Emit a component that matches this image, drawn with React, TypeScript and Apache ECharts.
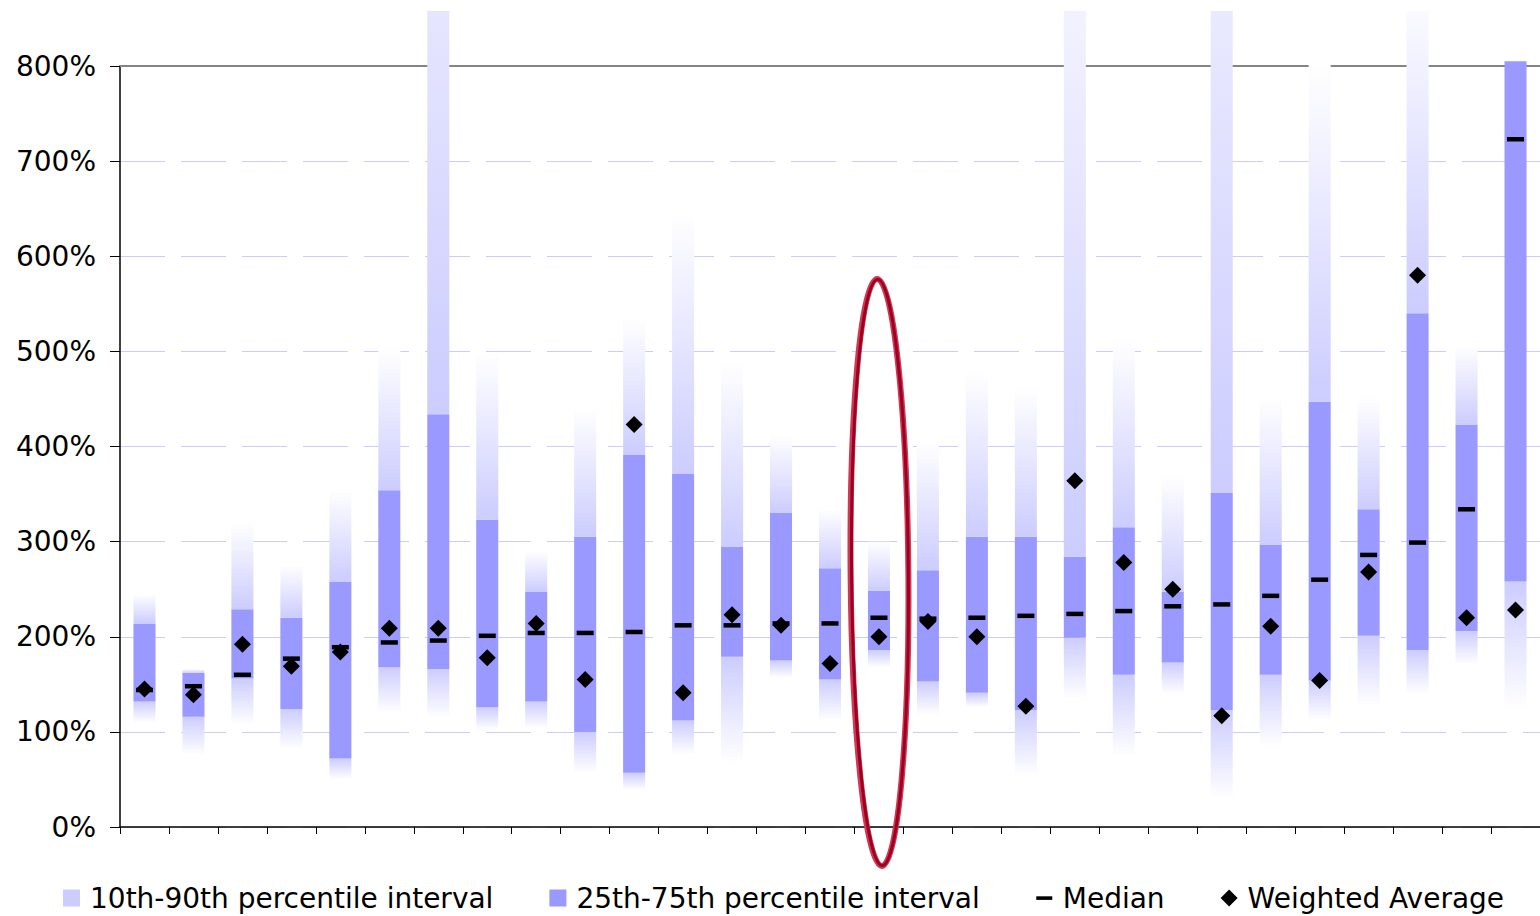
import React, { useEffect, useRef } from 'react';
import * as echarts from 'echarts';

const categories = ['1', '2', '3', '4', '5', '6', '7', '8', '9', '10', '11', '12', '13', '14', '15', '16', '17', '18', '19', '20', '21', '22', '23', '24', '25', '26', '27', '28', '29'];
const p10 = [110, 76, 108, 82, 50, 120, 115, 102, 104, 57, 39, 76, 68, 157, 112, 168, 118, 126, 54, 135, 74, 140, 29, 85, 112, 128, 140, 171, 124];
const p25 = [132, 116, 156, 124, 72, 168, 166, 126, 132, 100, 57, 112, 179, 175, 155, 186, 153, 141, 123, 199, 160, 173, 123, 160, 154, 201, 186, 206, 258];
const p75 = [214, 162, 229, 220, 258, 354, 434, 323, 247, 305, 391, 371, 295, 330, 272, 248, 270, 305, 305, 284, 315, 247, 351, 297, 447, 334, 540, 423, 805];
const p90 = [245, 166, 320, 275, 355, 503, 1280, 498, 290, 440, 535, 647, 488, 412, 334, 300, 406, 479, 462, 1054, 513, 369, 1240, 452, 805, 452, 892, 507, 805];
const median = [144, 148, 160, 177, 189, 194, 196, 201, 204, 204, 205, 212, 212, 214, 214, 220, 219, 220, 222, 224, 227, 232, 234, 243, 260, 286, 299, 334, 723];
const weightedAverage = [145, 139, 192, 169, 184, 209, 209, 178, 214, 155, 423, 141, 223, 212, 172, 200, 216, 200, 127, 364, 278, 250, 117, 211, 154, 268, 580, 220, 228];
const yTicks = [0, 100, 200, 300, 400, 500, 600, 700, 800];

const legendNames = ['10th-90th percentile interval', '25th-75th percentile interval', 'Median', 'Weighted Average'];

// annotation: ellipse drawn around one category
const highlightIndex = 15;
const ellipseTopValue = 576;
const ellipseBottomValue = -41;

const FONT = 'DejaVu Sans';
const LIGHT = '#CCCCFF';
const DARK = '#9999FF';

export default function App() {
  const ref = useRef<HTMLDivElement>(null);

  useEffect(() => {
    if (!ref.current) return;
    const chart = echarts.init(ref.current, null, { renderer: 'svg' });

    const lowerLight = p25.map((v, i) => v - p10[i]);
    const box = p75.map((v, i) => v - p25[i]);
    const upperLight = p90.map((v, i) => v - p75[i]);

    const upperGrad = new echarts.graphic.LinearGradient(0, 0, 0, 1, [
      { offset: 0, color: '#FFFFFF' },
      { offset: 1, color: LIGHT },
    ]);
    const lowerGrad = new echarts.graphic.LinearGradient(0, 0, 0, 1, [
      { offset: 0, color: LIGHT },
      { offset: 1, color: '#FFFFFF' },
    ]);

    const option: any = {
      animation: false,
      grid: { left: 120, top: 55, width: 1422, bottom: 89 },
      xAxis: [
        {
          type: 'category',
          data: categories,
          position: 'bottom',
          boundaryGap: true,
          axisLine: { show: true, lineStyle: { color: '#000', width: 1.5 } },
          axisTick: { show: true, interval: 0, length: 7, lineStyle: { color: '#000', width: 1 } },
          axisLabel: { show: false },
          splitLine: { show: false },
        },
        {
          type: 'category',
          data: categories,
          position: 'top',
          axisLine: { show: true, lineStyle: { color: '#858585', width: 2 } },
          axisTick: { show: false },
          axisLabel: { show: false },
          splitLine: { show: false },
        },
      ],
      yAxis: {
        type: 'value',
        min: yTicks[0],
        max: yTicks[yTicks.length - 1],
        interval: 100,
        axisLine: { show: true, lineStyle: { color: '#000', width: 1.5 } },
        axisTick: { show: true, length: 10, lineStyle: { color: '#000', width: 1 } },
        axisLabel: {
          formatter: (v: number) => v + '%',
          fontSize: 28,
          fontFamily: FONT,
          color: '#000',
          margin: 24,
        },
        splitLine: { show: true, lineStyle: { color: '#CCCCF8', width: 1, type: [45, 16] } },
      },
      legend: {
        left: 63,
        top: 873,
        padding: 0,
        itemWidth: 17,
        itemHeight: 17,
        itemGap: 56,
        selectedMode: false,
        textStyle: { fontSize: 28, fontFamily: FONT, color: '#000', padding: [0, 0, 0, 5] },
        data: [
          { name: legendNames[0], icon: 'rect', itemStyle: { color: LIGHT } },
          { name: legendNames[1], icon: 'rect', itemStyle: { color: DARK } },
          { name: legendNames[2], icon: 'path://M0,0M17,17M0.5,6.8L16.5,6.8L16.5,10.4L0.5,10.4Z', itemStyle: { color: '#000' } },
          { name: legendNames[3], icon: 'diamond', itemStyle: { color: '#000', opacity: 1 } },
        ],
      },
      series: [
        {
          name: 'base',
          type: 'bar',
          stack: 'range',
          barWidth: '45%',
          clip: false,
          silent: true,
          itemStyle: { color: 'rgba(0,0,0,0)' },
          data: p10,
        },
        {
          name: legendNames[0],
          type: 'bar',
          stack: 'range',
          barWidth: '45%',
          clip: false,
          itemStyle: { color: lowerGrad },
          data: lowerLight,
        },
        {
          name: legendNames[1],
          type: 'bar',
          stack: 'range',
          barWidth: '45%',
          clip: false,
          itemStyle: { color: DARK },
          data: box,
        },
        {
          name: legendNames[0],
          type: 'bar',
          stack: 'range',
          barWidth: '45%',
          clip: false,
          itemStyle: { color: upperGrad },
          data: upperLight,
        },
        {
          name: legendNames[2],
          type: 'scatter',
          symbol: 'rect',
          symbolSize: [17, 4.5],
          z: 5,
          itemStyle: { color: '#000', opacity: 1 },
          data: median,
        },
        {
          name: legendNames[3],
          type: 'scatter',
          symbol: 'diamond',
          symbolSize: 17,
          z: 6,
          itemStyle: { color: '#000', opacity: 1 },
          data: weightedAverage,
        },
      ],
    };

    chart.setOption(option);

    const finder = { xAxisIndex: 0, yAxisIndex: 0 };
    const top = chart.convertToPixel(finder, [highlightIndex, ellipseTopValue]) as number[];
    const bottom = chart.convertToPixel(finder, [highlightIndex, ellipseBottomValue]) as number[];
    const next = chart.convertToPixel(finder, [highlightIndex + 1, ellipseBottomValue]) as number[];
    const band = next[0] - top[0];
    const cx = top[0] + 0.01 * band;
    const cy = (top[1] + bottom[1]) / 2;
    const ry = (bottom[1] - top[1]) / 2;
    const rx = 0.59 * band;

    chart.setOption({
      graphic: [
        {
          type: 'ellipse',
          z: 100,
          originX: cx,
          originY: cy,
          rotation: 0.008,
          shape: { cx, cy, rx, ry },
          style: { fill: 'none', stroke: '#CC3A5A', lineWidth: 6 },
        },
        {
          type: 'ellipse',
          z: 101,
          originX: cx,
          originY: cy,
          rotation: 0.008,
          shape: { cx: cx + 0.5, cy, rx: rx - 0.5, ry: ry - 0.5 },
          style: { fill: 'none', stroke: '#A0001E', lineWidth: 3 },
        },
      ],
    });

    return () => chart.dispose();
  }, []);

  return (
    <div
      ref={ref}
      style={{ position: 'fixed', left: 0, top: 11, width: 1540, height: 905, overflow: 'hidden', background: '#fff' }}
    />
  );
}
